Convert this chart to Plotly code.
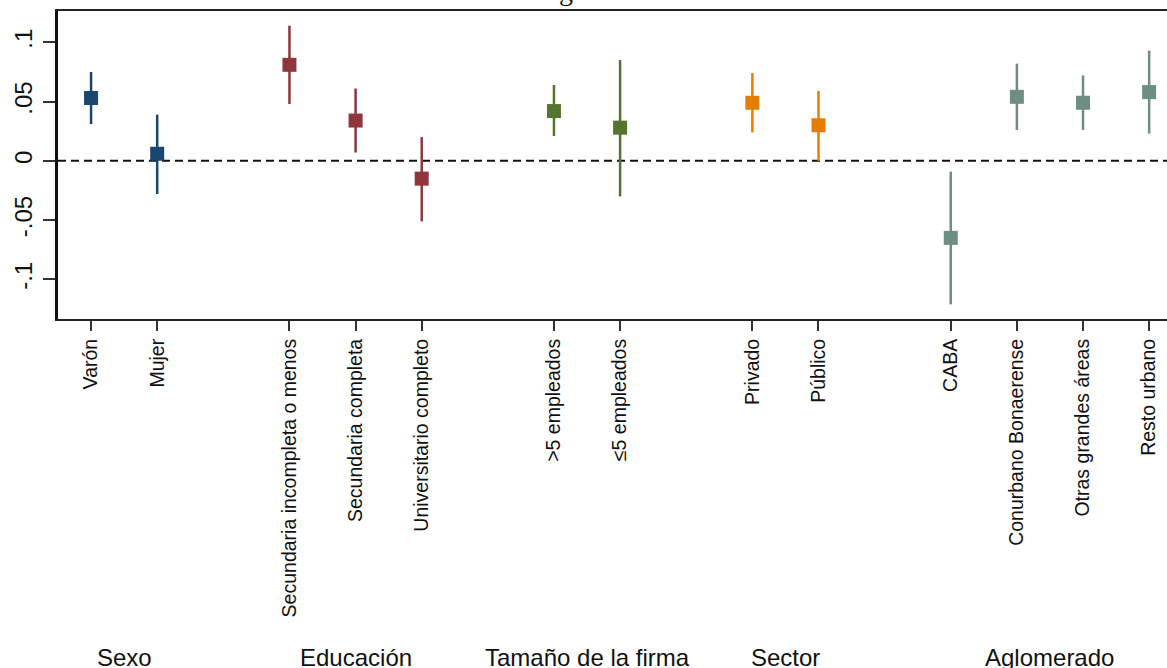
import plotly.graph_objects as go

# Coefficient estimates with 95% confidence intervals, by category
groups = ["Sexo", "Educación", "Tamaño de la firma", "Sector", "Aglomerado"]
group_colors = ["#1a476f", "#90353b", "#55752f", "#e37e00", "#6e8e84"]

categories = [
    ["Varón", "Mujer"],
    ["Secundaria incompleta o menos", "Secundaria completa", "Universitario completo"],
    [">5 empleados", "≤5 empleados"],
    ["Privado", "Público"],
    ["CABA", "Conurbano Bonaerense", "Otras grandes áreas", "Resto urbano"],
]
coef = [
    [0.053, 0.006],
    [0.081, 0.034, -0.015],
    [0.042, 0.028],
    [0.049, 0.030],
    [-0.065, 0.054, 0.049, 0.058],
]
ci_low = [
    [0.031, -0.028],
    [0.048, 0.007, -0.051],
    [0.021, -0.030],
    [0.024, 0.000],
    [-0.121, 0.026, 0.026, 0.023],
]
ci_high = [
    [0.075, 0.039],
    [0.114, 0.061, 0.020],
    [0.064, 0.085],
    [0.074, 0.059],
    [-0.009, 0.082, 0.072, 0.093],
]

y_ticks = [-0.1, -0.05, 0, 0.05, 0.1]
y_tick_text = ["-.1", "-.05", "0", ".05", ".1"]

SANS = "Liberation Sans, Arial, sans-serif"

fig = go.Figure()

# Place categories one unit apart, leaving an empty slot between groups
tick_pos, tick_text, group_centers = [], [], []
pos = 1
for g, cats in enumerate(categories):
    xs = list(range(pos, pos + len(cats)))
    pos += len(cats) + 1
    tick_pos += xs
    tick_text += cats
    group_centers.append(sum(xs) / len(xs))
    fig.add_trace(go.Scatter(
        x=xs,
        y=coef[g],
        mode="markers",
        marker=dict(symbol="square", size=14, color=group_colors[g]),
        error_y=dict(
            type="data",
            symmetric=False,
            array=[h - c for h, c in zip(ci_high[g], coef[g])],
            arrayminus=[c - l for l, c in zip(ci_low[g], coef[g])],
            color=group_colors[g],
            thickness=2.5,
            width=0,
        ),
        showlegend=False,
        hoverinfo="skip",
    ))

# Group names under the rotated category labels
for name, cx in zip(groups, group_centers):
    fig.add_annotation(
        x=cx, xref="x", y=0, yref="paper",
        text=name, showarrow=False,
        yanchor="middle", yshift=-338,
        font=dict(family=SANS, size=24, color="#111"),
    )

# Title line sitting above the frame (only its lowest strokes fall inside the page)
fig.add_annotation(
    x=(566 - 58) / (1167 - 58), xref="paper", y=1, yref="paper",
    text="g", showarrow=False, xanchor="center", yanchor="bottom", yshift=3,
    font=dict(family="Liberation Serif, Times New Roman, serif", size=28, color="#111"),
)

# Dashed reference line at zero
fig.add_shape(
    type="line", xref="paper", x0=0, x1=1, yref="y", y0=0, y1=0,
    line=dict(color="#111", width=2, dash="8px,5px"), layer="below",
)

fig.update_layout(
    width=1167, height=668,
    margin=dict(l=58, r=0, t=11, b=349),
    paper_bgcolor="white", plot_bgcolor="white",
    xaxis=dict(
        range=[0.5, 17.27],
        tickvals=tick_pos, ticktext=tick_text,
        tickangle=-90,
        ticks="outside", ticklen=10, tickwidth=2, tickcolor="#333",
        showline=True, linecolor="#222", linewidth=2, mirror=True,
        showgrid=False, zeroline=False,
        ticklabelstandoff=0,
        tickfont=dict(family=SANS, size=19.5, color="#111"),
    ),
    yaxis=dict(
        range=[-0.1334, 0.1264],
        tickvals=y_ticks, ticktext=y_tick_text,
        tickangle=-90,
        ticks="outside", ticklen=12, tickwidth=2, tickcolor="#333",
        showline=True, linecolor="#111", linewidth=2.5, mirror=False,
        showgrid=False, zeroline=False,
        ticklabelstandoff=2,
        tickfont=dict(family=SANS, size=24, color="#111"),
    ),
)

fig.write_html("out.html")
